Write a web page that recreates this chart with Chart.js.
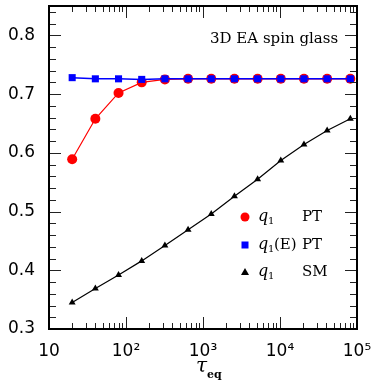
<!DOCTYPE html>
<html><head><meta charset="utf-8">
<script src="https://cdn.jsdelivr.net/npm/chart.js@4/dist/chart.umd.min.js"></script>
<style>html,body{margin:0;padding:0;background:#fff;overflow:hidden}</style>
</head><body>
<canvas id="c" width="373" height="384" style="width:373px;height:384px;display:block"></canvas>
<script>
// ---- data ----
const tauEq = [20, 40, 80, 160, 320, 640, 1280, 2560, 5120, 10240, 20480, 40960, 81920];
const q1PT  = [0.589, 0.658, 0.702, 0.720, 0.725, 0.726, 0.726, 0.726, 0.726, 0.726, 0.726, 0.726, 0.726];
const q1EPT = [0.728, 0.726, 0.726, 0.725, 0.726, 0.726, 0.726, 0.726, 0.726, 0.726, 0.726, 0.726, 0.726];
const q1SM  = [0.345, 0.369, 0.392, 0.416, 0.442, 0.469, 0.496, 0.526, 0.555, 0.587, 0.614, 0.638, 0.658];
const xTickValues = [10, 100, 1000, 10000, 100000];
const xTickLabels = ['10', '10\u00B2', '10\u00B3', '10\u2074', '10\u2075'];
const yTickValues = [0.3, 0.4, 0.5, 0.6, 0.7, 0.8];
const yTickLabels = ['0.3', '0.4', '0.5', '0.6', '0.7', '0.8'];

const toXY = (ys) => tauEq.map((x, i) => ({x: x, y: ys[i]}));

const SERIF = '"DejaVu Serif", "Liberation Serif", serif';
const SANS = '"DejaVu Sans", "Liberation Sans", sans-serif';

const zeroPad = (s) => { s.paddingTop = 0; s.paddingBottom = 0; s.paddingLeft = 0; s.paddingRight = 0; };

const frame = {
  id: 'frame',
  afterDraw(chart) {
    const ctx = chart.ctx, a = chart.chartArea;
    const xs = chart.scales.x, ys = chart.scales.y;
    ctx.save();
    ctx.strokeStyle = '#222';
    ctx.lineWidth = 1;
    ctx.beginPath();
    for (let k = 1; k <= 5; k++) {
      for (let m = 1; m <= 9; m++) {
        const v = m * Math.pow(10, k);
        if (v < 10 || v > 100000) continue;
        const px = Math.round(xs.getPixelForValue(v)) + 0.5;
        const len = (m === 1) ? 12 : 6;
        ctx.moveTo(px, a.bottom); ctx.lineTo(px, a.bottom - len);
        ctx.moveTo(px, a.top); ctx.lineTo(px, a.top + len);
      }
    }
    for (let i = 0; i <= 27; i++) {
      const v = 0.3 + i * 0.02;
      const py = Math.round(ys.getPixelForValue(v)) + 0.5;
      const len = (i % 5 === 0) ? 12 : 7;
      ctx.moveTo(a.left, py); ctx.lineTo(a.left + len, py);
      ctx.moveTo(a.right, py); ctx.lineTo(a.right - len, py);
    }
    ctx.stroke();
    ctx.strokeStyle = '#000';
    ctx.lineWidth = 2;
    ctx.strokeRect(a.left, a.top, a.right - a.left, a.bottom - a.top);

    ctx.fillStyle = '#000';
    ctx.textBaseline = 'alphabetic';
    ctx.textAlign = 'left';
    ctx.font = '15px ' + SERIF;
    ctx.fillText('3D EA spin glass', 210, 43);

    const items = [
      {y: 217, draw: (x, y) => { ctx.fillStyle = '#ff0000'; ctx.beginPath(); ctx.arc(x, y, 4.5, 0, Math.PI*2); ctx.fill(); }, sub: '', label: 'PT'},
      {y: 245, draw: (x, y) => { ctx.fillStyle = '#0000ff'; ctx.fillRect(x-3.5, y-3.5, 7, 7); }, sub: '(E)', label: 'PT'},
      {y: 272, draw: (x, y) => { ctx.fillStyle = '#000'; ctx.beginPath(); ctx.moveTo(x, y-4); ctx.lineTo(x+4, y+3); ctx.lineTo(x-4, y+3); ctx.closePath(); ctx.fill(); }, sub: '', label: 'SM'}
    ];
    items.forEach(it => {
      it.draw(245, it.y);
      ctx.fillStyle = '#000';
      ctx.font = 'italic 16px ' + SERIF;
      ctx.fillText('q', 258, it.y + 4);
      ctx.font = '10px ' + SERIF;
      ctx.fillText('1', 268, it.y + 7);
      if (it.sub) { ctx.font = '15px ' + SERIF; ctx.fillText(it.sub, 274, it.y + 4); }
      ctx.font = '15px ' + SERIF;
      ctx.fillText(it.label, 302, it.y + 4);
    });

    ctx.font = 'italic 20px ' + SERIF;
    ctx.fillText('\u03C4', 196, 372);
    ctx.font = 'bold 11px ' + SERIF;
    ctx.fillText('eq', 207, 378);
    ctx.restore();
  }
};

new Chart(document.getElementById('c'), {
  type: 'line',
  data: {
    datasets: [
      { label: 'q1 SM', data: toXY(q1SM), borderColor: '#000', backgroundColor: '#000', borderWidth: 1.2,
        pointStyle: 'triangle', pointRadius: 4, pointBorderWidth: 0, order: 3 },
      { label: 'q1 PT', data: toXY(q1PT), borderColor: '#ff0000', backgroundColor: '#ff0000', borderWidth: 1.2,
        pointStyle: 'circle', pointRadius: 5, pointBorderWidth: 0, order: 2 },
      { label: 'q1(E) PT', data: toXY(q1EPT), borderColor: '#0000ff', backgroundColor: '#0000ff', borderWidth: 1.5,
        pointStyle: 'rect', pointRadius: 5, pointBorderWidth: 0, order: 1 }
    ]
  },
  options: {
    responsive: false,
    animation: false,
    devicePixelRatio: 1,
    layout: { padding: { left: 0, right: 16, top: 6, bottom: 0 } },
    plugins: { legend: { display: false }, tooltip: { enabled: false } },
    scales: {
      x: {
        type: 'logarithmic', min: 10, max: 100000,
        afterBuildTicks: (s) => { s.ticks = xTickValues.map(v => ({value: v})); },
        afterFit: (s) => { s.height = 55; zeroPad(s); },
        grid: { display: false, drawTicks: false },
        border: { display: false },
        ticks: { color: '#000', font: { family: SANS, size: 17 }, padding: 12, maxRotation: 0, autoSkip: false,
          callback: (v) => { const i = xTickValues.indexOf(v); return i >= 0 ? xTickLabels[i] : ''; } }
      },
      y: {
        type: 'linear', min: 0.3, max: 0.85,
        afterBuildTicks: (s) => { s.ticks = yTickValues.map(v => ({value: v})); },
        afterFit: (s) => { s.width = 49; zeroPad(s); },
        grid: { display: false, drawTicks: false },
        border: { display: false },
        ticks: { color: '#000', font: { family: SANS, size: 17 }, padding: 14, autoSkip: false,
          callback: (v) => { const i = yTickValues.findIndex(t => Math.abs(t - v) < 1e-9); return i >= 0 ? yTickLabels[i] : ''; } }
      }
    }
  },
  plugins: [frame]
});
</script>
</body></html>
